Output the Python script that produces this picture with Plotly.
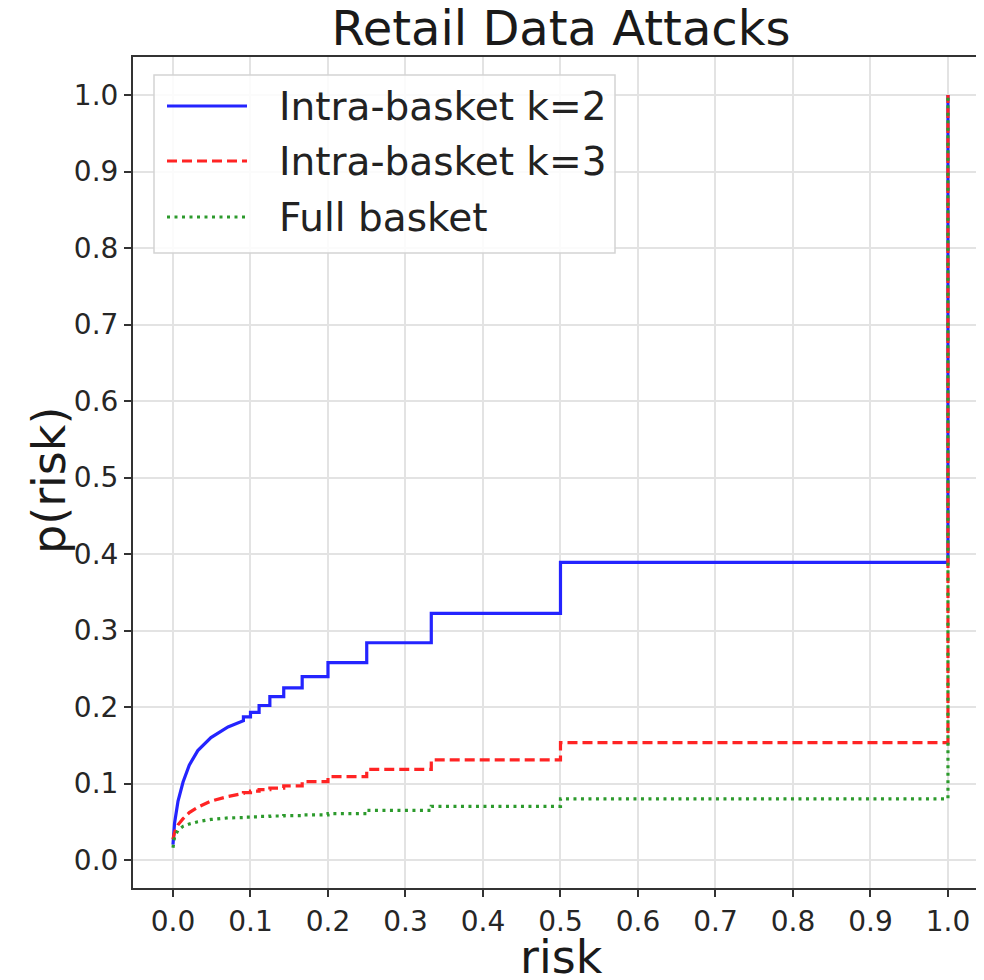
import plotly.graph_objects as go

# ---- data (step CDFs of risk) ----
risk = [0.0, 0.002, 0.0065, 0.013, 0.021, 0.032, 0.049, 0.071,
        0.0909, 0.0909, 0.1, 0.1, 0.1111, 0.1111, 0.125, 0.125,
        0.1429, 0.1429, 0.1667, 0.1667, 0.2, 0.2, 0.25, 0.25,
        0.3333, 0.3333, 0.5, 0.5, 1.0, 1.0]

p_intra_k2 = [0.020, 0.048, 0.077, 0.102, 0.124, 0.143, 0.160, 0.174,
              0.182, 0.187, 0.187, 0.193, 0.193, 0.202, 0.202, 0.2135,
              0.2135, 0.225, 0.225, 0.2397, 0.2397, 0.258, 0.258, 0.284,
              0.284, 0.3225, 0.3225, 0.389, 0.389, 1.0]

p_intra_k3 = [0.027, 0.036, 0.046, 0.054, 0.062, 0.069, 0.077, 0.083,
              0.087, 0.088, 0.088, 0.090, 0.090, 0.092, 0.092, 0.094,
              0.094, 0.097, 0.097, 0.1025, 0.1025, 0.109, 0.109, 0.1185,
              0.1185, 0.131, 0.131, 0.1535, 0.1535, 1.0]

p_full = [0.016, 0.030, 0.039, 0.044, 0.047, 0.050, 0.053, 0.055,
          0.0555, 0.056, 0.056, 0.0565, 0.0565, 0.057, 0.057, 0.0575,
          0.0575, 0.058, 0.058, 0.059, 0.059, 0.0605, 0.0605, 0.065,
          0.065, 0.0702, 0.0702, 0.080, 0.080, 1.0]

series_names = ["Intra-basket k=2", "Intra-basket k=3", "Full basket"]
tick_vals = [0.0, 0.1, 0.2, 0.3, 0.4, 0.5, 0.6, 0.7, 0.8, 0.9, 1.0]
tick_text = ["0.0", "0.1", "0.2", "0.3", "0.4", "0.5", "0.6", "0.7", "0.8", "0.9", "1.0"]

# ---- styles / layout ----
W, H = 976, 972
ML, MR, MT, MB = 125, 0, 49, 92
FONT = "DejaVu Sans"
styles = [
    dict(color="#2424ff", dash="solid"),
    dict(color="#ff2424", dash="10px,5px"),
    dict(color="#2c9a2c", dash="3px,4.5px"),
]
LW = 3.2

fig = go.Figure()
for name, ys, st in zip(series_names, [p_intra_k2, p_intra_k3, p_full], styles):
    fig.add_trace(go.Scatter(
        x=risk, y=ys, mode="lines", name=name, showlegend=False,
        line=dict(color=st["color"], dash=st["dash"], width=LW),
    ))

pw, ph = W - ML - MR, H - MT - MB
def px(x):
    return (x - ML) / pw
def py(y):
    return (H - MB - y) / ph

# ---- custom legend (matplotlib style) ----
fig.add_shape(type="rect", xref="paper", yref="paper",
              x0=px(146), x1=px(607), y0=py(245), y1=py(67),
              fillcolor="rgba(255,255,255,0.85)",
              line=dict(color="#d4d4d4", width=1.5), layer="above")
for i, (name, st) in enumerate(zip(series_names, styles)):
    yy = [98, 153, 209][i]
    fig.add_shape(type="line", xref="paper", yref="paper",
                  x0=px(159), x1=px(239), y0=py(yy), y1=py(yy),
                  line=dict(color=st["color"], dash=st["dash"], width=LW),
                  layer="above")
    fig.add_annotation(xref="paper", yref="paper", x=px(269), y=py(yy),
                       xanchor="left", yanchor="middle", text=name,
                       showarrow=False, font=dict(family=FONT, size=39, color="#222"))

# ---- axis titles ----
fig.add_annotation(xref="paper", yref="paper", x=px(553), y=py(949),
                   xanchor="center", yanchor="middle", text="risk", showarrow=False,
                   font=dict(family=FONT, size=46, color="#1a1a1a"))
fig.add_annotation(xref="paper", yref="paper", x=px(41), y=py(473),
                   xanchor="center", yanchor="middle", text="p(risk)", showarrow=False,
                   textangle=-90, font=dict(family=FONT, size=46, color="#1a1a1a"))

axis_common = dict(
    showgrid=True, gridcolor="#e3e3e3", gridwidth=1.5,
    zeroline=False, showline=True, linecolor="#333", linewidth=2,
    ticks="outside", ticklen=7, tickwidth=1.5, tickcolor="#333",
    tickfont=dict(family=FONT, size=28, color="#262626"),
    tickvals=tick_vals, ticktext=tick_text, automargin=False,
)

fig.update_layout(
    width=W, height=H,
    margin=dict(l=ML, r=MR, t=MT, b=MB),
    paper_bgcolor="white", plot_bgcolor="white",
    font=dict(family=FONT, color="#222"),
    title=dict(text="Retail Data Attacks", x=553 / W, xanchor="center",
               xref="container", yref="container", y=1 - 20.5 / H, yanchor="middle",
               font=dict(family=FONT, size=48, color="#1a1a1a")),
    xaxis=dict(axis_common, range=[-0.0516, 1.0465], mirror=True),
    yaxis=dict(axis_common, range=[-0.0366, 1.0497], mirror=False),
)

fig.write_html("out.html")
